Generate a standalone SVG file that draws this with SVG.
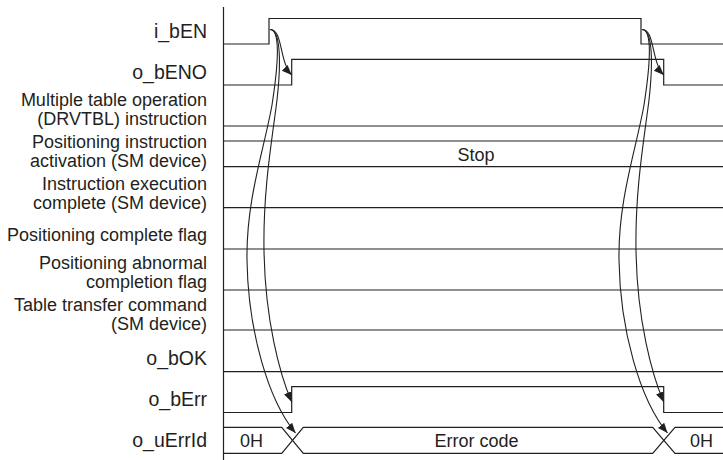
<svg xmlns="http://www.w3.org/2000/svg" width="723" height="460" viewBox="0 0 723 460">
<style>
.lbl{font-family:"Liberation Sans",Arial,sans-serif;font-size:18px;fill:#231f20;text-anchor:end}
.nm{font-size:19.5px}
.val{font-family:"Liberation Sans",Arial,sans-serif;font-size:18px;fill:#231f20;text-anchor:middle}
.sig{fill:none;stroke:#231f20;stroke-width:1.2}
.arr{fill:none;stroke:#231f20;stroke-width:1.1;marker-end:url(#ah)}
</style>
<defs>
<marker id="ah" markerUnits="userSpaceOnUse" markerWidth="12" markerHeight="10" refX="10" refY="4" orient="auto">
<path d="M0,0 L10,4 L0,8 Z" fill="#231f20"/>
</marker>
</defs>
<rect width="723" height="460" fill="#ffffff"/>
<g id="axis"><line x1="223.5" y1="7" x2="223.5" y2="460" class="sig"/></g>

<g id="i_bEN">
<text class="lbl nm" x="207" y="38">i_bEN</text>
<polyline class="sig" points="223.5,44 269,44 269,18.5 641,18.5 641,44 723,44"/>
</g>
<g id="o_bENO">
<text class="lbl nm" x="207" y="79">o_bENO</text>
<polyline class="sig" points="223.5,85 291.7,85 291.7,59.3 663.7,59.3 663.7,85 723,85"/>
</g>
<g id="drvtbl">
<text class="lbl" x="207" y="106">Multiple table operation</text>
<text class="lbl" x="207" y="124.5">(DRVTBL) instruction</text>
<line class="sig" x1="223.5" y1="126" x2="723" y2="126"/>
</g>
<g id="pos_act">
<text class="lbl" x="207" y="148">Positioning instruction</text>
<text class="lbl" x="207" y="166.5">activation (SM device)</text>
<line class="sig" x1="223.5" y1="141" x2="723" y2="141"/>
<line class="sig" x1="223.5" y1="166.7" x2="723" y2="166.7"/>
<text class="val" x="476" y="161">Stop</text>
</g>
<g id="exec_complete">
<text class="lbl" x="207" y="190">Instruction execution</text>
<text class="lbl" x="207" y="208.5">complete (SM device)</text>
<line class="sig" x1="223.5" y1="207.7" x2="723" y2="207.7"/>
</g>
<g id="pos_complete">
<text class="lbl" x="207" y="240.5">Positioning complete flag</text>
<line class="sig" x1="223.5" y1="249" x2="723" y2="249"/>
</g>
<g id="pos_abnormal">
<text class="lbl" x="207" y="269">Positioning abnormal</text>
<text class="lbl" x="207" y="287.5">completion flag</text>
<line class="sig" x1="223.5" y1="290" x2="723" y2="290"/>
</g>
<g id="table_transfer">
<text class="lbl" x="207" y="311">Table transfer command</text>
<text class="lbl" x="207" y="329.5">(SM device)</text>
<line class="sig" x1="223.5" y1="330" x2="723" y2="330"/>
</g>
<g id="o_bOK">
<text class="lbl nm" x="207" y="365">o_bOK</text>
<line class="sig" x1="223.5" y1="371.7" x2="723" y2="371.7"/>
</g>
<g id="o_bErr">
<text class="lbl nm" x="207" y="405.5">o_bErr</text>
<polyline class="sig" points="223.5,412.5 291.7,412.5 291.7,386.7 663.7,386.7 663.7,412.5 723,412.5"/>
</g>
<g id="o_uErrId">
<text class="lbl nm" x="207" y="446.5">o_uErrId</text>
<polyline class="sig" points="223.5,427.3 281.7,427.3 303.3,453.3 652.7,453.3 675,427.3 723,427.3"/>
<polyline class="sig" points="223.5,453.3 281.7,453.3 303.3,427.3 652.7,427.3 675,453.3 723,453.3"/>
<text class="val" x="251.5" y="446.5">0H</text>
<text class="val" x="476.5" y="446.5">Error code</text>
<text class="val" x="701.5" y="446.5">0H</text>
</g>

<g id="connectors">
<path class="arr" d="M270,29.5 C283,29 279,62 291.7,75"/>
<path class="arr" d="M270,29.5 C281,29.5 281,65 277,100 C272,140 263,190 264,250 C265,320 280,375 291.7,402"/>
<path class="arr" d="M270,29.5 C280,29.5 279,60 272,105 C264,150 246,200 247,260 C248,330 268,400 295.5,433"/>
<path class="arr" d="M642,29.5 C655,29 651,62 663.7,75"/>
<path class="arr" d="M642,29.5 C653,29.5 653,65 649,100 C644,140 635,190 636,250 C637,320 652,375 663.7,402"/>
<path class="arr" d="M642,29.5 C652,29.5 651,60 644,105 C636,150 618,200 619,260 C620,330 640,400 667.5,433"/>
</g>
</svg>
